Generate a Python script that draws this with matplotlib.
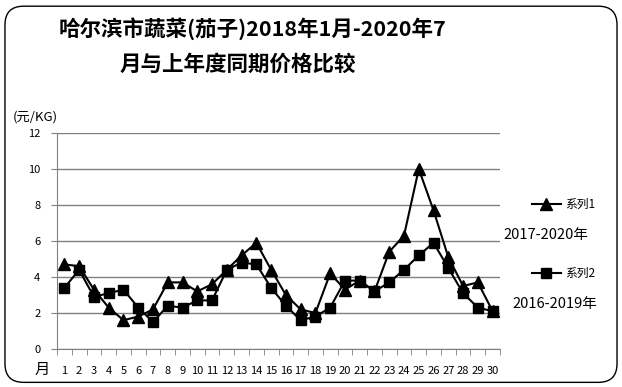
import matplotlib
matplotlib.use('Agg')
import matplotlib.pyplot as plt
from matplotlib.patches import FancyBboxPatch
from matplotlib.lines import Line2D

plt.rcParams['font.family'] = ['Noto Sans CJK SC', 'DejaVu Sans']

months = list(range(1, 31))
series1 = [4.7, 4.6, 3.3, 2.3, 1.6, 1.8, 2.2, 3.7, 3.7, 3.2,
           3.6, 4.4, 5.2, 5.9, 4.4, 3.0, 2.2, 2.0, 4.2, 3.3,
           3.8, 3.2, 5.4, 6.3, 10.0, 7.7, 5.1, 3.5, 3.7, 2.1]
series2 = [3.4, 4.4, 2.9, 3.1, 3.3, 2.3, 1.5, 2.4, 2.3, 2.7,
           2.7, 4.4, 4.8, 4.7, 3.4, 2.4, 1.6, 1.8, 2.3, 3.8,
           3.8, 3.2, 3.7, 4.4, 5.2, 5.9, 4.5, 3.1, 2.3, 2.1]
yticks = [0, 2, 4, 6, 8, 10, 12]

fig = plt.figure(figsize=(6.22, 3.87), dpi=100)

# rounded frame around the whole chart
frame = FancyBboxPatch((0.008, 0.012), 0.984, 0.972, boxstyle='round,pad=0,rounding_size=0.03',
                       transform=fig.transFigure, fill=False, edgecolor='black', linewidth=1.0,
                       mutation_aspect=622 / 387)
fig.patches.append(frame)

ax = fig.add_axes([57 / 622, 1 - 349 / 387, 443 / 622, 216 / 387])
ax.plot(months, series1, color='black', linewidth=1.5, marker='^', markersize=8)
ax.plot(months, series2, color='black', linewidth=1.5, marker='s', markersize=7.5)

ax.set_xlim(0.5, 30.5)
ax.set_ylim(0, 12)
ax.set_yticks(yticks)
ax.set_yticklabels([str(v) for v in yticks], fontsize=8)
ax.yaxis.grid(True, color='#808080', linewidth=1.0)
ax.set_axisbelow(True)

ax.set_xticks(months)
ax.set_xticklabels([str(m) for m in months], fontsize=8)
ax.set_xticks([m + 0.5 for m in range(0, 31)], minor=True)
ax.tick_params(axis='x', which='major', length=0, pad=12)
ax.tick_params(axis='x', which='minor', length=4, color='#808080')
ax.tick_params(axis='y', length=4, color='#808080', pad=8)

for side in ['top', 'right']:
    ax.spines[side].set_visible(False)
ax.spines['left'].set_color('#808080')
ax.spines['bottom'].set_color('#808080')

fig.text(253 / 622, 1 - 29 / 387, '哈尔滨市蔬菜(茄子)2018年1月-2020年7', ha='center', va='center',
         fontsize=15.5, fontweight='bold')
fig.text(238 / 622, 1 - 64 / 387, '月与上年度同期价格比较', ha='center', va='center',
         fontsize=15.5, fontweight='bold')
fig.text(13 / 622, 1 - 117 / 387, '(元/KG)', ha='left', va='center', fontsize=9.5)
fig.text(42 / 622, 1 - 369 / 387, '月', ha='center', va='center', fontsize=11)

# legend entries drawn at the right side
for y, marker, ms, name, label, lx in [(204, '^', 8, '系列1', '2017-2020年', 503),
                                        (273, 's', 7.5, '系列2', '2016-2019年', 512)]:
    yf = 1 - y / 387
    fig.add_artist(Line2D([532 / 622, 561 / 622], [yf, yf], color='black', linewidth=1.5,
                          transform=fig.transFigure))
    fig.add_artist(Line2D([546 / 622], [yf], color='black', marker=marker, markersize=ms,
                          transform=fig.transFigure))
    fig.text(565 / 622, yf, name, ha='left', va='center', fontsize=8.5)
    fig.text(lx / 622, yf - 31 / 387, label, ha='left', va='center', fontsize=10.5)

fig.savefig('out.png', dpi=100)
